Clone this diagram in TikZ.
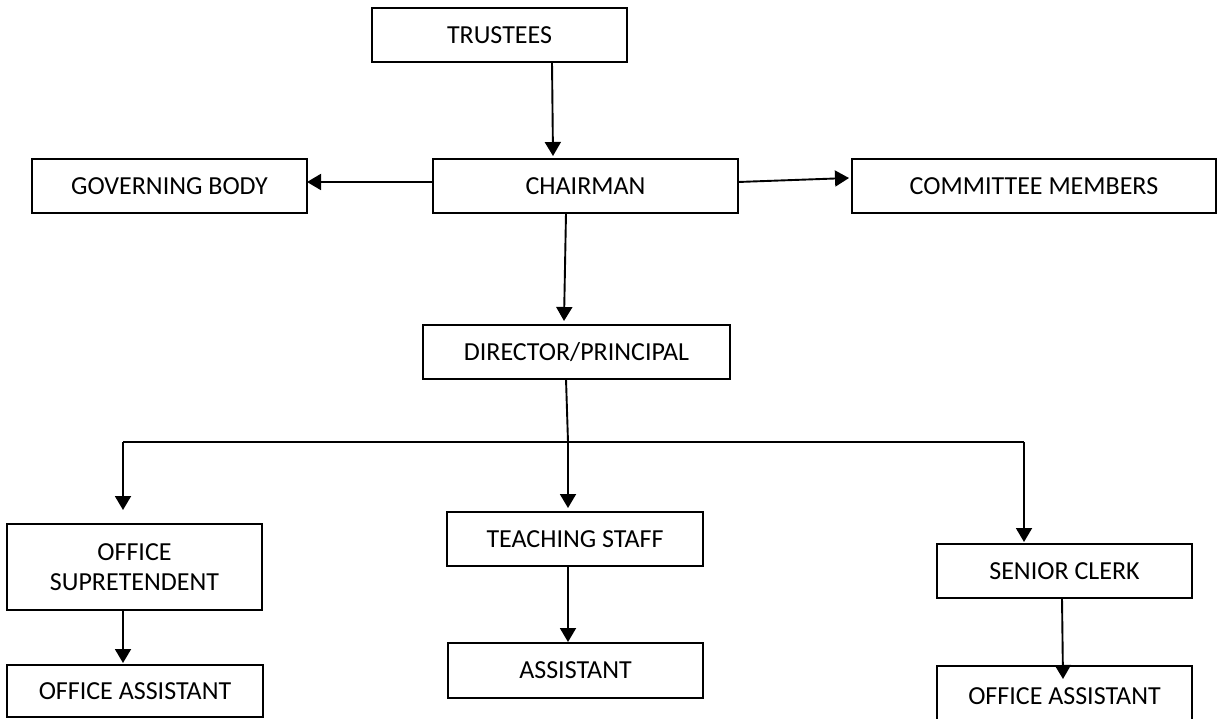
\documentclass[tikz,border=0pt]{standalone}
\usepackage{fontspec}
\setmainfont{Carlito}
\usetikzlibrary{arrows.meta}
\begin{document}
\begin{tikzpicture}[x=1pt,y=-1pt,
  box/.style={draw=black, line width=1.8pt, inner sep=0pt, outer sep=0pt, align=center,
    font=\fontsize{26}{30}\selectfont},
  conn/.style={line width=1.9pt},
  arr/.style={line width=1.9pt, -{Triangle[width=16pt,length=14pt]}}]
\fill[white] (0,0) rectangle (1221,719);
\useasboundingbox (0,0) rectangle (1221,719);

\node[box, minimum width=255pt, minimum height=54pt] (tru) at (499.5,35) {TRUSTEES};
\node[box, minimum width=305pt, minimum height=54pt] (chair) at (585.5,186) {CHAIRMAN};
\node[box, minimum width=275pt, minimum height=54pt] (gov) at (169.5,186) {GOVERNING BODY};
\node[box, minimum width=364pt, minimum height=54pt] (comm) at (1034,186) {COMMITTEE MEMBERS};
\node[box, minimum width=307pt, minimum height=54pt] (dir) at (576.5,352) {DIRECTOR/PRINCIPAL};
\node[box, minimum width=255pt, minimum height=86pt] (sup) at (134.5,567) {OFFICE\\SUPRETENDENT};
\node[box, minimum width=256pt, minimum height=54pt] (teach) at (575,539) {TEACHING STAFF};
\node[box, minimum width=255pt, minimum height=54pt] (senior) at (1064.5,571) {SENIOR CLERK};
\node[box, minimum width=256pt, minimum height=52pt] (oa1) at (135,691) {OFFICE ASSISTANT};
\node[box, minimum width=255pt, minimum height=55pt] (asst) at (575.5,670.5) {ASSISTANT};
\node[box, minimum width=255pt, minimum height=60pt] (oa2) at (1064.5,696) {OFFICE ASSISTANT};

\coordinate (j) at (568,442);
\coordinate (L) at (123,442);
\coordinate (R) at (1024,442);

\draw[arr] ([xshift=52.5pt]tru.south) -- ([xshift=-32.5pt,yshift=3pt]chair.north);
\draw[arr] ([yshift=4pt]chair.west) -- ([yshift=4pt]gov.east);
\draw[arr] ([yshift=4pt]chair.east) -- ([xshift=-3pt,yshift=8pt]comm.west);
\draw[arr] ([xshift=-19.5pt]chair.south) -- ([xshift=-12.5pt,yshift=4pt]dir.north);
\draw[conn] ([xshift=-10.5pt]dir.south) -- (j);
\draw[conn] (L) -- (R);
\draw[arr] (L) -- ([xshift=-11.5pt,yshift=14pt]sup.north);
\draw[arr] (j) -- ([xshift=-7pt,yshift=4pt]teach.north);
\draw[arr] (R) -- ([xshift=-40.5pt,yshift=2pt]senior.north);
\draw[arr] ([xshift=-11.5pt]sup.south) -- ([xshift=-12pt,yshift=2pt]oa1.north);
\draw[arr] ([xshift=-7pt]teach.south) -- ([xshift=-7.5pt,yshift=1pt]asst.north);
\draw[arr] ([xshift=-2.5pt]senior.south) -- ([xshift=-1.5pt,yshift=-13pt]oa2.north);
\end{tikzpicture}
\end{document}
